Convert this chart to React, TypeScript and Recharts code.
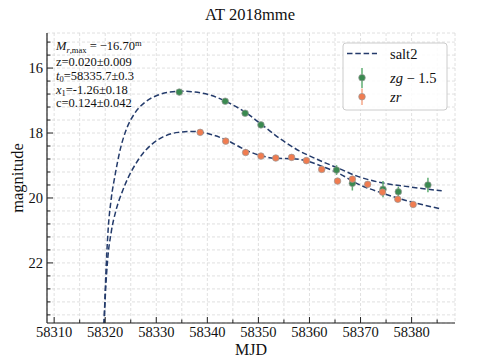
import React from 'react';
import { ComposedChart, Line, Scatter, XAxis, YAxis, CartesianGrid, ErrorBar } from 'recharts';

// ---- observed photometry ----
const gMjd = [58334.5, 58343.5, 58347.4, 58350.5, 58365.3, 58368.4, 58374.4, 58377.4, 58383.2];
const gMag = [16.74, 17.02, 17.39, 17.75, 19.14, 19.55, 19.73, 19.81, 19.6];
const gErr = [0.04, 0.05, 0.05, 0.06, 0.15, 0.22, 0.25, 0.16, 0.22];

const rMjd = [58338.6, 58343.6, 58347.5, 58350.5, 58353.4, 58356.5, 58359.4, 58362.4, 58365.5, 58368.4, 58371.4, 58374.3, 58377.3, 58380.3];
const rMag = [17.98, 18.25, 18.6, 18.71, 18.77, 18.75, 18.85, 19.12, 19.48, 19.42, 19.58, 19.82, 20.04, 20.2];
const rErr = [0.03, 0.03, 0.03, 0.03, 0.03, 0.03, 0.04, 0.04, 0.05, 0.05, 0.06, 0.08, 0.09, 0.09];

// ---- salt2 model curves ----
const gModelMjd = [58319.65, 58319.78, 58320.08, 58320.57, 58321.15, 58321.94, 58322.92, 58324.09, 58325.66, 58327.81, 58330.35, 58332.7, 58335.24, 58337.59, 58340.53, 58343.8, 58347.71, 58350.31, 58354.2, 58356.2, 58358.0, 58360.1, 58362.5, 58365.3, 58369.2, 58374.4, 58379.7, 58385.9];
const gModelMag = [24.4, 23.85, 22.52, 20.98, 20.06, 19.29, 18.52, 17.91, 17.42, 17.05, 16.83, 16.74, 16.71, 16.74, 16.83, 17.04, 17.39, 17.7, 18.17, 18.38, 18.55, 18.71, 18.88, 19.06, 19.32, 19.54, 19.66, 19.78];

const rModelMjd = [58319.65, 58319.78, 58320.08, 58320.47, 58321.15, 58322.13, 58323.31, 58324.48, 58325.85, 58327.42, 58329.18, 58331.33, 58334.27, 58337.2, 58339.88, 58343.8, 58347.71, 58350.31, 58353.58, 58356.52, 58359.45, 58362.7, 58365.97, 58369.24, 58374.44, 58379.67, 58385.87];
const rModelMag = [24.4, 23.85, 22.83, 21.91, 21.08, 20.37, 19.82, 19.38, 18.98, 18.62, 18.34, 18.12, 17.98, 17.95, 18.01, 18.22, 18.54, 18.69, 18.78, 18.79, 18.86, 19.04, 19.26, 19.55, 19.86, 20.11, 20.34];

// ---- ticks ----
const xTicks = [58310, 58315, 58320, 58325, 58330, 58335, 58340, 58345, 58350, 58355, 58360, 58365, 58370, 58375, 58380, 58385];
const xMajorTicks = [58310, 58320, 58330, 58340, 58350, 58360, 58370, 58380];
const yTicks = [15.2, 15.6, 16, 16.4, 16.8, 17.2, 17.6, 18, 18.4, 18.8, 19.2, 19.6, 20, 20.4, 20.8, 21.2, 21.6, 22, 22.4, 22.8, 23.2, 23.6];
const yMajorTicks = [16, 18, 20, 22];

const xDomain = [58308.6, 58388.5];
const yDomain = [14.92, 23.85];

const gPoints = gMjd.map((m, i) => ({ mjd: m, mag: gMag[i], err: gErr[i] }));
const rPoints = rMjd.map((m, i) => ({ mjd: m, mag: rMag[i], err: rErr[i] }));
const gModel = gModelMjd.map((m, i) => ({ mjd: m, mag: gModelMag[i] }));
const rModel = rModelMjd.map((m, i) => ({ mjd: m, mag: rModelMag[i] }));

const FONT = '"Liberation Serif", "DejaVu Serif", serif';
const TXT = { fontFamily: FONT };
const AXIS = '#222';
const NAVY = '#243b6b';
const GREEN = '#3a8a50';
const GREEN_ERR = '#5fae72';
const ORANGE = '#f07c50';
const ORANGE_ERR = '#f6a98a';

const isMajor = (v: number, majors: number[]) => majors.some((m) => Math.abs(m - v) < 1e-6);

const BottomTick = (p: any) => {
  const major = isMajor(p.payload.value, xMajorTicks);
  return (
    <g>
      <line x1={p.x} x2={p.x} y1={p.y} y2={p.y - (major ? 6 : 3.5)} stroke={AXIS} strokeWidth={1} />
      {major && (
        <text x={p.x} y={p.y + 14} textAnchor="middle" style={TXT} fontSize={14.5} fill="#111">
          {p.payload.value}
        </text>
      )}
    </g>
  );
};

const TopTick = (p: any) => {
  const major = isMajor(p.payload.value, xMajorTicks);
  return <line x1={p.x} x2={p.x} y1={p.y} y2={p.y + (major ? 6 : 3.5)} stroke={AXIS} strokeWidth={1} />;
};

const LeftTick = (p: any) => {
  const major = isMajor(p.payload.value, yMajorTicks);
  return (
    <g>
      <line x1={p.x} x2={p.x + (major ? 6 : 3.5)} y1={p.y} y2={p.y} stroke={AXIS} strokeWidth={1} />
      {major && (
        <text x={p.x - 4} y={p.y + 5} textAnchor="end" style={TXT} fontSize={14.5} fill="#111">
          {p.payload.value}
        </text>
      )}
    </g>
  );
};

const RightTick = (p: any) => {
  const major = isMajor(p.payload.value, yMajorTicks);
  return <line x1={p.x} x2={p.x - (major ? 6 : 3.5)} y1={p.y} y2={p.y} stroke={AXIS} strokeWidth={1} />;
};

const makeDot = (fill: string) => (p: any) => {
  if (p.cx == null || p.cy == null) return <g />;
  return <circle cx={p.cx} cy={p.cy} r={3.3} fill={fill} stroke="#999" strokeWidth={0.7} />;
};

const axisLine = { stroke: AXIS, strokeWidth: 1.2 };

export default function App() {
  return (
    <div style={{ position: 'absolute', left: 0, top: 0, width: 478, height: 359, background: '#fff' }}>
      <ComposedChart width={478} height={359} margin={{ top: 33, right: 23, bottom: 0, left: 0 }}>
        <CartesianGrid stroke="#d8d8d8" strokeDasharray="3 2" strokeWidth={0.8} />
        <XAxis
          dataKey="mjd"
          type="number"
          domain={xDomain}
          allowDataOverflow
          ticks={xTicks}
          interval={0}
          height={36}
          tickSize={0}
          tickMargin={0}
          tickLine={false}
          axisLine={axisLine}
          tick={<BottomTick />}
        />
        <XAxis
          xAxisId="top"
          orientation="top"
          type="number"
          domain={xDomain}
          allowDataOverflow
          ticks={xTicks}
          interval={0}
          height={0}
          tickSize={0}
          tickMargin={0}
          tickLine={false}
          axisLine={axisLine}
          tick={<TopTick />}
        />
        <YAxis
          type="number"
          domain={yDomain}
          reversed
          allowDataOverflow
          ticks={yTicks}
          interval={0}
          width={47}
          tickSize={0}
          tickMargin={0}
          tickLine={false}
          axisLine={axisLine}
          tick={<LeftTick />}
        />
        <YAxis
          yAxisId="right"
          orientation="right"
          type="number"
          domain={yDomain}
          reversed
          allowDataOverflow
          ticks={yTicks}
          interval={0}
          width={0}
          tickSize={0}
          tickMargin={0}
          tickLine={false}
          axisLine={axisLine}
          tick={<RightTick />}
        />
        <Line data={gModel} dataKey="mag" type="monotone" stroke={NAVY} strokeWidth={1.5} strokeDasharray="5.5 2.8" dot={false} activeDot={false} isAnimationActive={false} />
        <Line data={rModel} dataKey="mag" type="monotone" stroke={NAVY} strokeWidth={1.5} strokeDasharray="5.5 2.8" dot={false} activeDot={false} isAnimationActive={false} />
        <Scatter data={gPoints} dataKey="mag" shape={makeDot(GREEN)} isAnimationActive={false}>
          <ErrorBar dataKey="err" direction="y" width={0} stroke={GREEN_ERR} strokeWidth={1.5} />
        </Scatter>
        <Scatter data={rPoints} dataKey="mag" shape={makeDot(ORANGE)} isAnimationActive={false}>
          <ErrorBar dataKey="err" direction="y" width={0} stroke={ORANGE_ERR} strokeWidth={1.5} />
        </Scatter>
      </ComposedChart>
      <svg width={478} height={359} style={{ position: 'absolute', left: 0, top: 0, pointerEvents: 'none', fontFamily: FONT }}>
        <text x={250} y={20} textAnchor="middle" fontSize={16.5} fill="#111" style={TXT}>AT 2018mme</text>
        <text x={251} y={355} textAnchor="middle" fontSize={16} fill="#111" style={TXT}>MJD</text>
        <text transform="translate(23,178) rotate(-90)" textAnchor="middle" fontSize={16.5} fill="#111" style={TXT}>magnitude</text>

        <g fontSize={12.5} fill="#111" style={TXT}>
          <text x={56} y={50}>
            <tspan fontStyle="italic">M</tspan>
            <tspan fontSize={8.5} dy={2.5}><tspan fontStyle="italic">r</tspan>,max</tspan>
            <tspan dy={-2.5}> = −16.70</tspan>
            <tspan fontSize={8.5} dy={-4.5}>m</tspan>
          </text>
          <text x={56} y={66}>z=0.020±0.009</text>
          <text x={56} y={80}>
            <tspan fontStyle="italic">t</tspan>
            <tspan fontSize={8.5} dy={2}>0</tspan>
            <tspan dy={-2}>=58335.7±0.3</tspan>
          </text>
          <text x={56} y={93.5}>
            <tspan fontStyle="italic">x</tspan>
            <tspan fontSize={8.5} dy={2}>1</tspan>
            <tspan dy={-2}>=-1.26±0.18</tspan>
          </text>
          <text x={56} y={107}>c=0.124±0.042</text>
        </g>

        <g style={TXT}>
          <rect x={343} y={43} width={104} height={67} rx={3} fill="#fff" fillOpacity={0.85} stroke="#cccccc" strokeWidth={1} />
          <line x1={347} x2={377} y1={53.5} y2={53.5} stroke={NAVY} strokeWidth={1.5} strokeDasharray="5.5 2.8" />
          <text x={390} y={58.5} fontSize={14.5} fill="#111">salt2</text>
          <line x1={362} x2={362} y1={68} y2={88} stroke={GREEN_ERR} strokeWidth={1.5} />
          <circle cx={362} cy={77.7} r={3.3} fill={GREEN} stroke="#999" strokeWidth={0.7} />
          <text x={390} y={82.5} fontSize={14.5} fill="#111">
            <tspan fontStyle="italic">zg</tspan> − 1.5
          </text>
          <line x1={362} x2={362} y1={88.5} y2={105} stroke={ORANGE_ERR} strokeWidth={1.5} />
          <circle cx={362} cy={96.7} r={3.3} fill={ORANGE} stroke="#999" strokeWidth={0.7} />
          <text x={390} y={101.5} fontSize={14.5} fill="#111" fontStyle="italic">zr</text>
        </g>
      </svg>
    </div>
  );
}
